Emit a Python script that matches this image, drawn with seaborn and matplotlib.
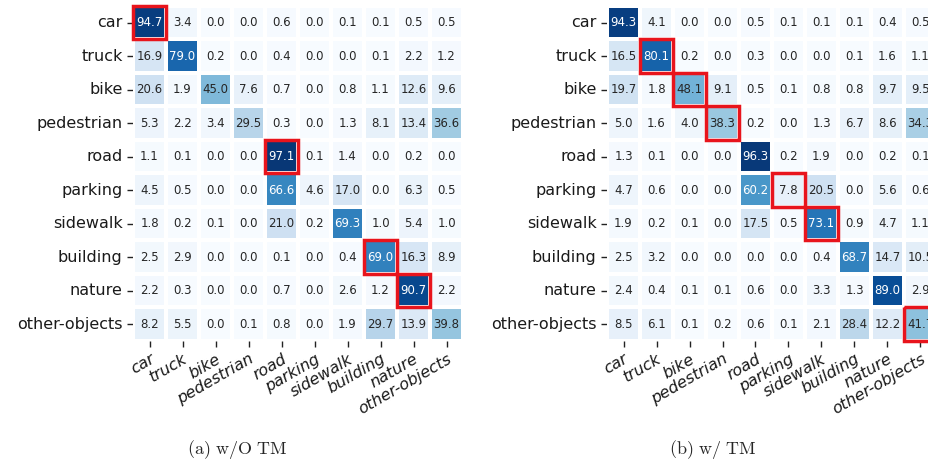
import matplotlib
matplotlib.use("Agg")
import matplotlib.pyplot as plt
import seaborn as sns
import numpy as np
import pandas as pd
from matplotlib.patches import Rectangle

classes = ["car", "truck", "bike", "pedestrian", "road", "parking",
           "sidewalk", "building", "nature", "other-objects"]

without_tm = [
    [94.7, 3.4, 0.0, 0.0, 0.6, 0.0, 0.1, 0.1, 0.5, 0.5],
    [16.9, 79.0, 0.2, 0.0, 0.4, 0.0, 0.0, 0.1, 2.2, 1.2],
    [20.6, 1.9, 45.0, 7.6, 0.7, 0.0, 0.8, 1.1, 12.6, 9.6],
    [5.3, 2.2, 3.4, 29.5, 0.3, 0.0, 1.3, 8.1, 13.4, 36.6],
    [1.1, 0.1, 0.0, 0.0, 97.1, 0.1, 1.4, 0.0, 0.2, 0.0],
    [4.5, 0.5, 0.0, 0.0, 66.6, 4.6, 17.0, 0.0, 6.3, 0.5],
    [1.8, 0.2, 0.1, 0.0, 21.0, 0.2, 69.3, 1.0, 5.4, 1.0],
    [2.5, 2.9, 0.0, 0.0, 0.1, 0.0, 0.4, 69.0, 16.3, 8.9],
    [2.2, 0.3, 0.0, 0.0, 0.7, 0.0, 2.6, 1.2, 90.7, 2.2],
    [8.2, 5.5, 0.0, 0.1, 0.8, 0.0, 1.9, 29.7, 13.9, 39.8],
]

with_tm = [
    [94.3, 4.1, 0.0, 0.0, 0.5, 0.1, 0.1, 0.1, 0.4, 0.5],
    [16.5, 80.1, 0.2, 0.0, 0.3, 0.0, 0.0, 0.1, 1.6, 1.1],
    [19.7, 1.8, 48.1, 9.1, 0.5, 0.1, 0.8, 0.8, 9.7, 9.5],
    [5.0, 1.6, 4.0, 38.3, 0.2, 0.0, 1.3, 6.7, 8.6, 34.3],
    [1.3, 0.1, 0.0, 0.0, 96.3, 0.2, 1.9, 0.0, 0.2, 0.1],
    [4.7, 0.6, 0.0, 0.0, 60.2, 7.8, 20.5, 0.0, 5.6, 0.6],
    [1.9, 0.2, 0.1, 0.0, 17.5, 0.5, 73.1, 0.9, 4.7, 1.1],
    [2.5, 3.2, 0.0, 0.0, 0.0, 0.0, 0.4, 68.7, 14.7, 10.5],
    [2.4, 0.4, 0.1, 0.1, 0.6, 0.0, 3.3, 1.3, 89.0, 2.9],
    [8.5, 6.1, 0.1, 0.2, 0.6, 0.1, 2.1, 28.4, 12.2, 41.7],
]

highlight_without = ["car", "road", "building", "nature"]
highlight_with = ["truck", "bike", "pedestrian", "parking", "sidewalk", "other-objects"]

captions = [r"$\mathrm{(a)\ w/O\ TM}$", r"$\mathrm{(b)\ w/\ TM}$"]

sns.set_theme(style="ticks")
plt.rcParams["font.family"] = ["DejaVu Sans"]
plt.rcParams["mathtext.fontset"] = "cm"

fig = plt.figure(figsize=(9.29, 4.65), dpi=100)
ax_l = fig.add_axes([0.1432, 0.2667, 0.3552, 0.7205])
ax_r = fig.add_axes([0.6534, 0.2667, 0.3552, 0.7205])

for ax, data, hl in [(ax_l, without_tm, highlight_without),
                     (ax_r, with_tm, highlight_with)]:
    df = pd.DataFrame(data, index=classes, columns=classes)
    sns.heatmap(df, ax=ax, cmap="Blues", vmin=0, vmax=100, annot=True,
                fmt=".1f", annot_kws={"size": 8.5}, linewidths=1.5,
                linecolor="white", cbar=False, square=False)
    for t in ax.texts:
        v = float(t.get_text())
        t.set_color("white" if v > 55 else "#262626")
    for name in hl:
        k = classes.index(name)
        ax.add_patch(Rectangle((k, k), 1, 1, fill=False, edgecolor="#e8141c",
                               lw=2.5, clip_on=False, zorder=5))
    ax.tick_params(axis="both", length=4, width=1, color="#222222")
    ax.set_yticklabels(classes, rotation=0, fontsize=11.5, color="#1a1a1a")
    ax.set_xticklabels(classes, rotation=30, ha="right", rotation_mode="anchor",
                       fontsize=11.5, fontstyle="italic", color="#1a1a1a")
    ax.set_xlabel("")
    ax.set_ylabel("")

fig.text(0.256, 0.008, captions[0], ha="center", va="bottom", fontsize=13)
fig.text(0.767, 0.008, captions[1], ha="center", va="bottom", fontsize=13)

fig.savefig("out.png", dpi=100)
